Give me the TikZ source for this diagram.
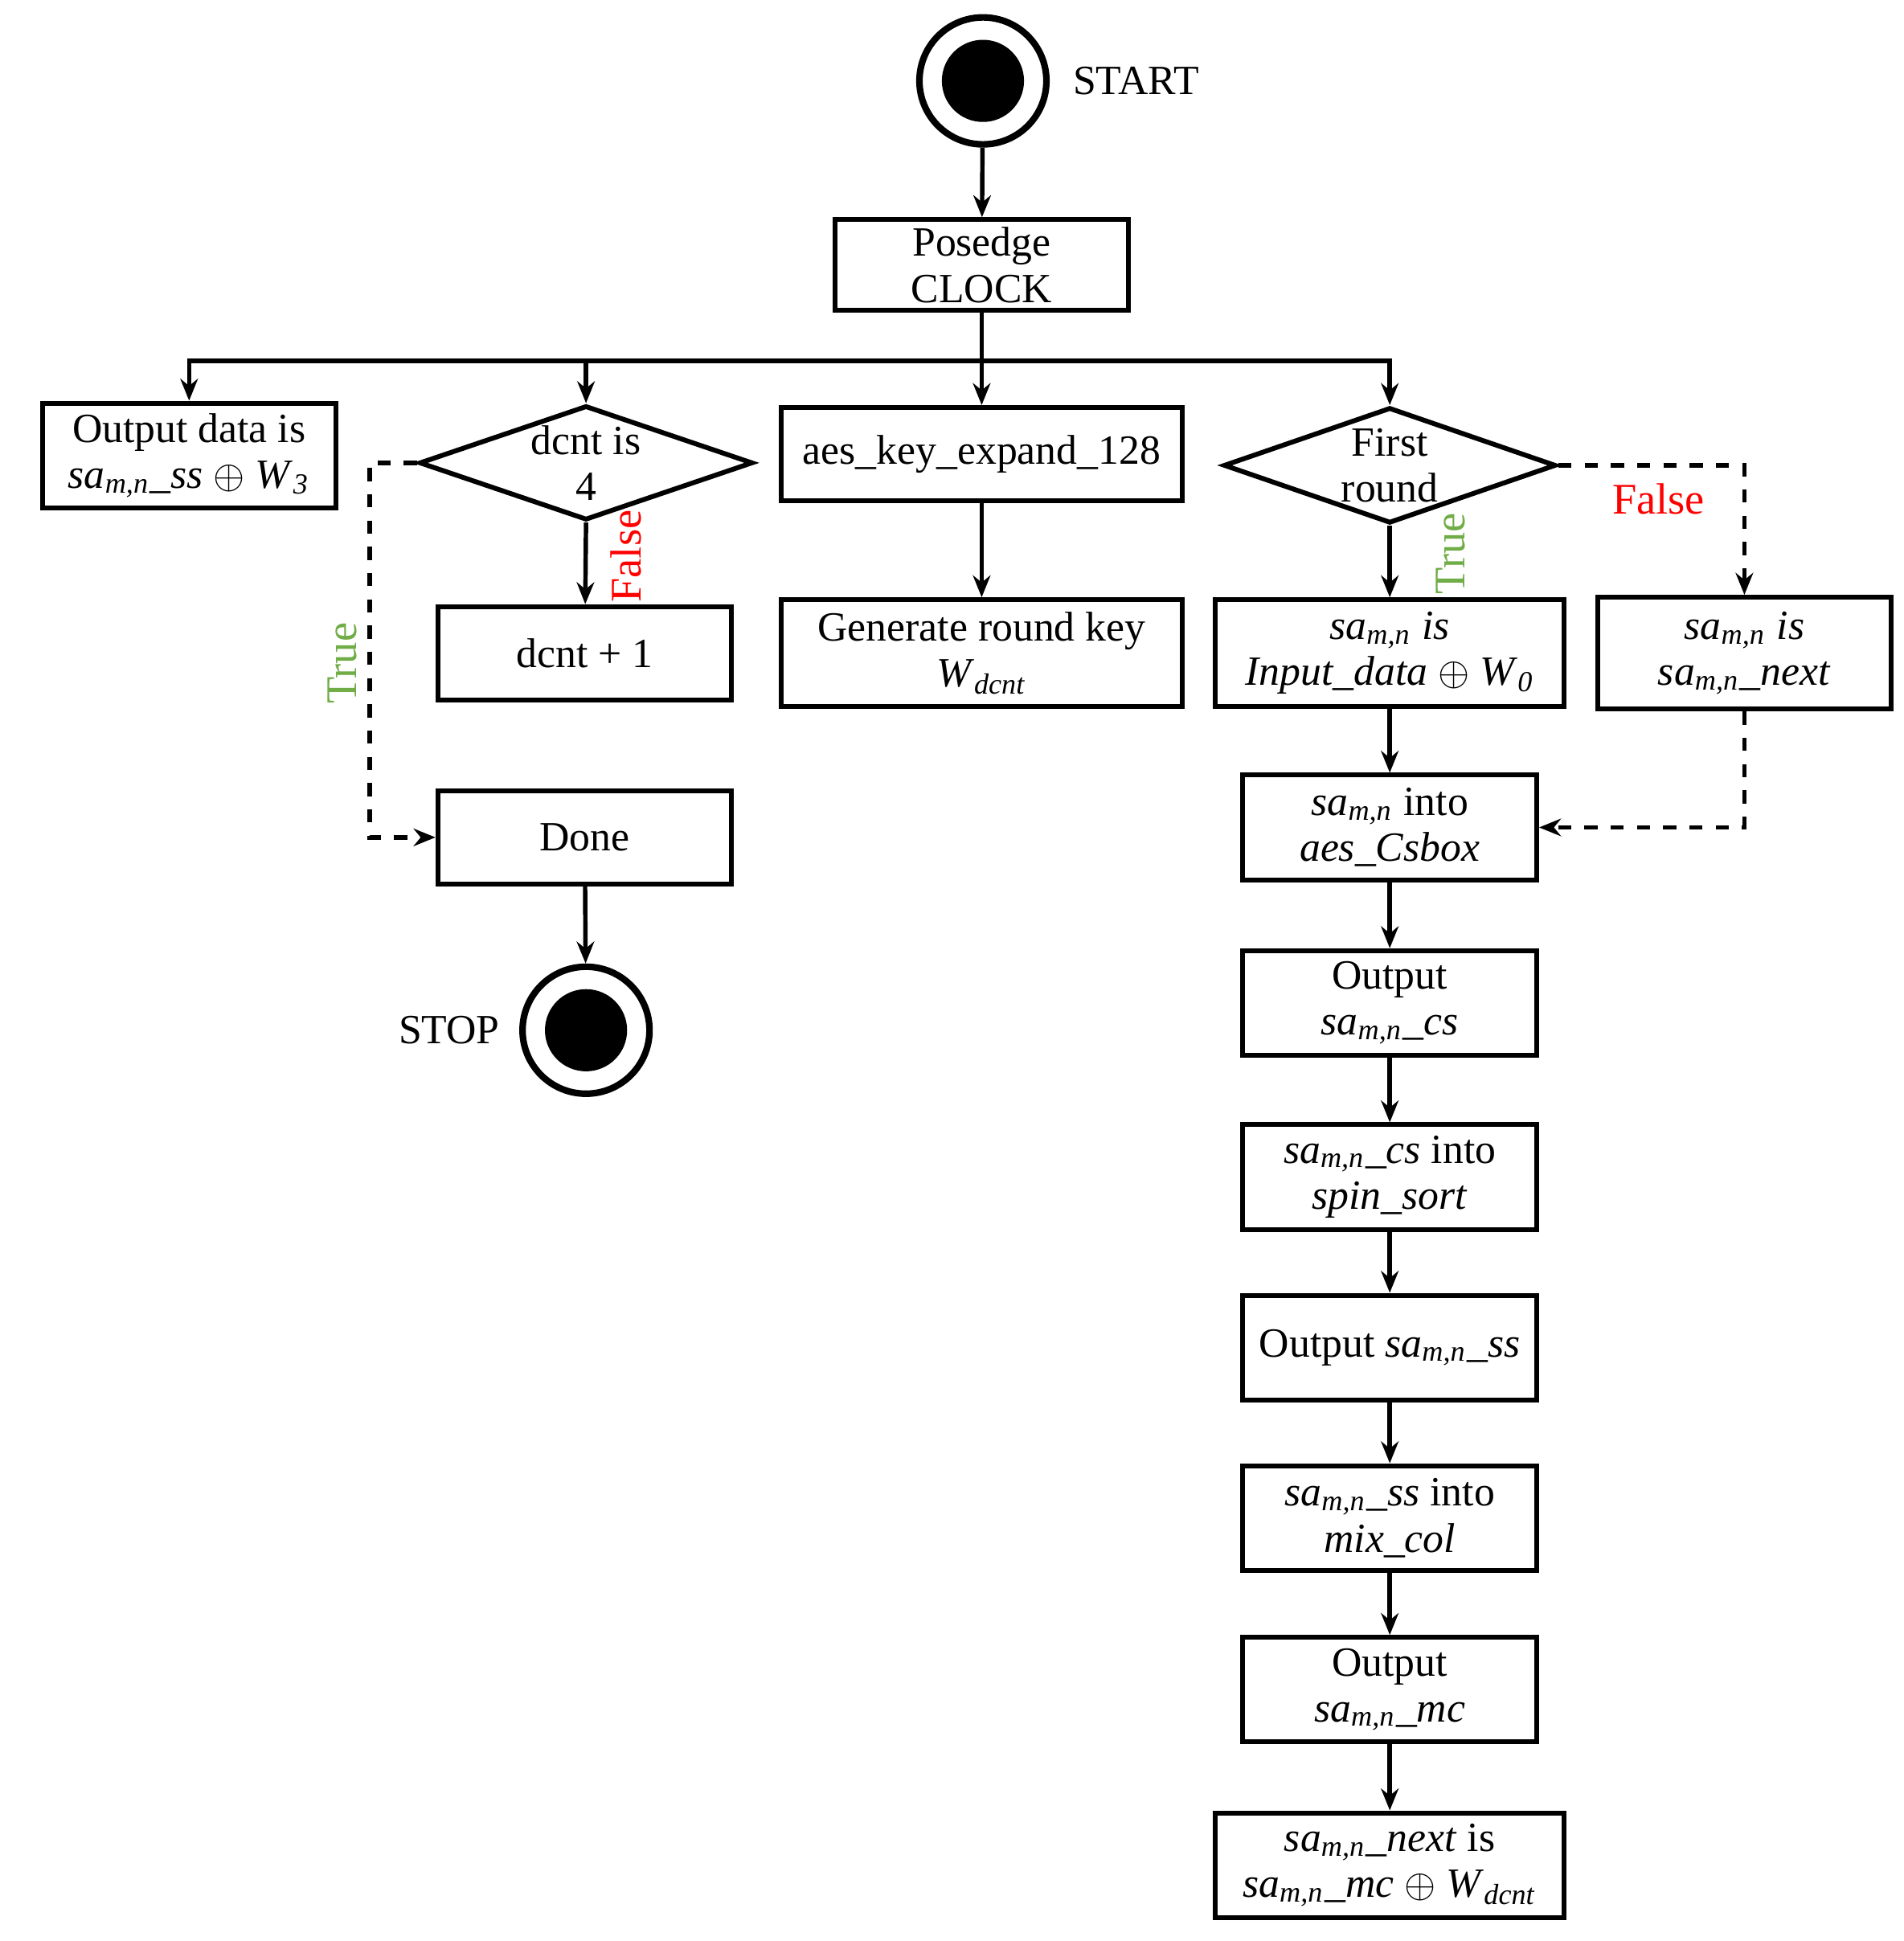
\documentclass[tikz,border=0pt]{standalone}
\usepackage{fontspec}
\setmainfont{Liberation Serif}
\usetikzlibrary{shapes.geometric,arrows.meta}
\definecolor{tgreen}{RGB}{112,173,71}
\newcommand{\sam}{\textit{sa}\textsubscript{\textit{m,n}}}
\begin{document}
\begin{tikzpicture}[x=0.01cm,y=-0.01cm,
  every node/.style={font=\fontsize{9.5}{10.5}\selectfont},
  box/.style={draw,line width=1.1pt,minimum width=2.36cm,minimum height=0.84cm,align=center,inner sep=1pt},
  dia/.style={draw,diamond,aspect=2.9,line width=1.1pt,inner sep=0pt,align=center},
  ar/.style={line width=1pt,-{Stealth[length=5pt,width=4pt]}},
  da/.style={ar,dashed},
  lab/.style={font=\fontsize{10}{11}\selectfont}]
\useasboundingbox (0,0) rectangle (1530,1560);
% start / stop
\node[circle,draw,line width=1.5pt,minimum size=1.02cm] (start) at (790,65) {};
\fill (start) circle (0.33cm);
\node at (913,65) {START};
\node[circle,draw,line width=1.5pt,minimum size=1.02cm] (stop) at (471,828) {};
\fill (stop) circle (0.33cm);
\node at (361,828) {STOP};
% boxes
\node[box,minimum height=0.73cm] (pos) at (789,213) {Posedge\\CLOCK};
\node[box] (out) at (152,366) {Output data is\\\sam\textit{\_ss} $\oplus$ \textit{W}\textsubscript{\textit{3}}};
\node[dia,minimum width=2.68cm,minimum height=0.92cm] (dcnt) at (471,372) {dcnt is\\4};
\node[box,minimum width=3.22cm,minimum height=0.75cm] (aes) at (789,365) {aes\_key\_expand\_128};
\node[dia,minimum width=2.67cm,minimum height=0.93cm] (fr) at (1117,374) {First\\round};
\node[box,minimum height=0.75cm] (inc) at (470,525) {dcnt + 1};
\node[box,minimum width=3.22cm,minimum height=0.86cm] (gen) at (789,525) {Generate round key\\\textit{W}\textsubscript{\textit{dcnt}}};
\node[box,minimum width=2.8cm,minimum height=0.86cm] (in) at (1117,525) {\sam\ \textit{is}\\\textit{Input\_data} $\oplus$ \textit{W}\textsubscript{\textit{0}}};
\node[box,minimum height=0.9cm] (nx) at (1402,525) {\sam\ \textit{is}\\\sam\textit{\_next}};
\node[box,minimum height=0.75cm] (done) at (470,673) {Done};
\node[box] (b1) at (1117,665) {\sam\ into\\\textit{aes\_Csbox}};
\node[box] (b2) at (1117,806) {Output\\\sam\textit{\_cs}};
\node[box] (b3) at (1117,946) {\sam\textit{\_cs} into\\\textit{spin\_sort}};
\node[box] (b4) at (1117,1083) {Output \sam\textit{\_ss}};
\node[box] (b5) at (1117,1220) {\sam\textit{\_ss} into\\\textit{mix\_col}};
\node[box] (b6) at (1117,1358) {Output\\\sam\textit{\_mc}};
\node[box,minimum width=2.8cm] (b7) at (1117,1499) {\sam\textit{\_next} is\\\sam\textit{\_mc} $\oplus$ \textit{W}\textsubscript{\textit{dcnt}}};
% connectors
\draw[ar] (start) -- (pos);
\coordinate (h) at (789,290);
\draw[line width=1pt] (pos.south) -- (h);
\draw[ar] (h) -| (out.north);
\draw[ar] (h) -| (dcnt.north);
\draw[ar] (h) -- (aes.north);
\draw[ar] (h) -| (fr.north);
\draw[ar] (dcnt.south) -- (inc);
\draw[ar] (aes) -- (gen);
\draw[ar] (fr.south) -- (in);
\draw[ar] (in) -- (b1);
\draw[ar] (b1) -- (b2);
\draw[ar] (b2) -- (b3);
\draw[ar] (b3) -- (b4);
\draw[ar] (b4) -- (b5);
\draw[ar] (b5) -- (b6);
\draw[ar] (b6) -- (b7);
\draw[ar] (done) -- (stop);
\coordinate (c1) at (297,372);
\coordinate (c2) at (297,673);
\draw[da] (dcnt.west) -- (c1) -- (c2) -- (done.west);
\coordinate (c3) at (1402,374);
\draw[da] (fr.east) -- (c3) -- (nx.north);
\coordinate (c4) at (1402,665);
\draw[da] (nx.south) -- (c4) -- (b1.east);
\node[lab,rotate=90,text=tgreen] at (275,533) {True};
\node[lab,rotate=90,text=red] at (503,447) {False};
\node[lab,rotate=90,text=tgreen] at (1166,445) {True};
\node[lab,text=red] at (1333,401) {False};
\end{tikzpicture}
\end{document}
